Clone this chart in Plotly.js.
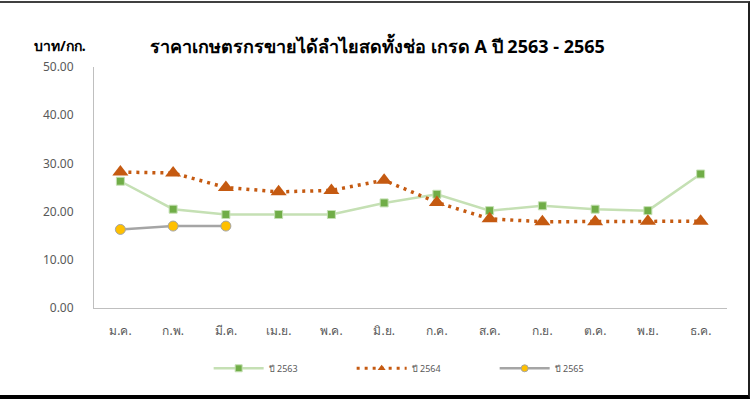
<!DOCTYPE html>
<html><head><meta charset="utf-8">
<script src="https://cdn.plot.ly/plotly-3.0.1.min.js"></script>
<style>
html,body{margin:0;padding:0;background:#fff;}
#wrap{position:relative;width:755px;height:405px;overflow:hidden;}
#chart{position:absolute;left:0;top:0;width:755px;height:405px;}
#frame{position:absolute;left:-5px;top:1px;width:755px;height:398px;border-top:2px solid #404040;border-right:2px solid #202020;border-bottom:4px solid #000;box-sizing:border-box;pointer-events:none;}
</style></head>
<body><div id="wrap"><div id="chart"></div><div id="frame"></div></div>
<script>
const months = ['ม.ค.','ก.พ.','มี.ค.','เม.ย.','พ.ค.','มิ.ย.','ก.ค.','ส.ค.','ก.ย.','ต.ค.','พ.ย.','ธ.ค.'];
const y2563 = [26.3, 20.5, 19.4, 19.4, 19.4, 21.8, 23.6, 20.2, 21.2, 20.5, 20.2, 27.8];
const y2564 = [28.2, 28.0, 25.0, 24.1, 24.4, 26.5, 21.9, 18.5, 17.9, 17.9, 18.0, 18.0];
const y2565 = [16.3, 17.0, 17.0];
const names = ['ปี 2563','ปี 2564','ปี 2565'];
const yTicks = [0,10,20,30,40,50];
const FONT = 'Tahoma, "Noto Sans", "DejaVu Sans", sans-serif';

const styles = [
  {line:{color:'#c5e0b4', width:2.5}, marker:{symbol:'square', size:8, color:'#70ad47', line:{color:'#c5e0b4', width:1}}},
  {line:{color:'#c55a11', width:3.5, dash:'3px,5px'}, marker:{symbol:'triangle-up', size:14, color:'#c55a11', line:{width:0}}},
  {line:{color:'#a5a5a5', width:2.5}, marker:{symbol:'circle', size:10, color:'#ffc000', line:{color:'#a5a5a5', width:1}}}
];
const legendMarkerSize = [7, 7, 7];
const series = [y2563, y2564, y2565];

const traces = [];
series.forEach((ys, i) => {
  traces.push(Object.assign({x: months.slice(0, ys.length), y: ys, name: names[i], type:'scatter',
    mode:'lines+markers', showlegend:false}, styles[i]));
});
series.forEach((ys, i) => {
  traces.push({x:[null], y:[null], name: names[i], type:'scatter', mode:'lines+markers', showlegend:true,
    line: Object.assign({}, styles[i].line, i===1 ? {width:3} : {}),
    marker: Object.assign({}, styles[i].marker, {size: legendMarkerSize[i]})});
});

const layout = {
  width:755, height:405,
  margin:{l:94, r:28, t:67, b:97},
  paper_bgcolor:'#fff', plot_bgcolor:'#fff',
  font:{family:FONT, color:'#595959', size:12},
  title:{text:'<b>ราคาเกษตรกรขายได้ลำไยสดทั้งช่อ เกรด A ปี 2563 - 2565</b>',
    font:{family:FONT, size:18, color:'#000'}, x:0.5, xanchor:'center', y:0.885, yanchor:'middle'},
  showlegend:true,
  legend:{orientation:'h', x:0.52, xanchor:'center', y:-0.19, yanchor:'top',
    font:{size:9, color:'#595959'}, entrywidth:78, entrywidthmode:'pixels', itemwidth:50},
  xaxis:{type:'category', categoryarray: months, categoryorder:'array', showgrid:false, showline:true, linecolor:'#bfbfbf', linewidth:1,
    ticks:'', tickfont:{size:12, color:'#595959'}, ticklabelstandoff:12, zeroline:false, range:[-0.5, 11.5]},
  yaxis:{range:[0,50], tickvals:yTicks, ticktext:yTicks.map(v=>v.toFixed(2)),
    showgrid:false, showline:true, linecolor:'#bfbfbf', linewidth:1, ticks:'',
    tickfont:{size:12, color:'#595959'}, ticklabelstandoff:17, zeroline:false},
  annotations:[{text:'<b>บาท/กก.</b>', xref:'paper', yref:'paper', x:-0.054, y:1.09,
    xanchor:'center', yanchor:'middle', showarrow:false, font:{family:FONT, size:14, color:'#000'}}]
};
Plotly.newPlot('chart', traces, layout, {displayModeBar:false, staticPlot:true});
</script></body></html>
